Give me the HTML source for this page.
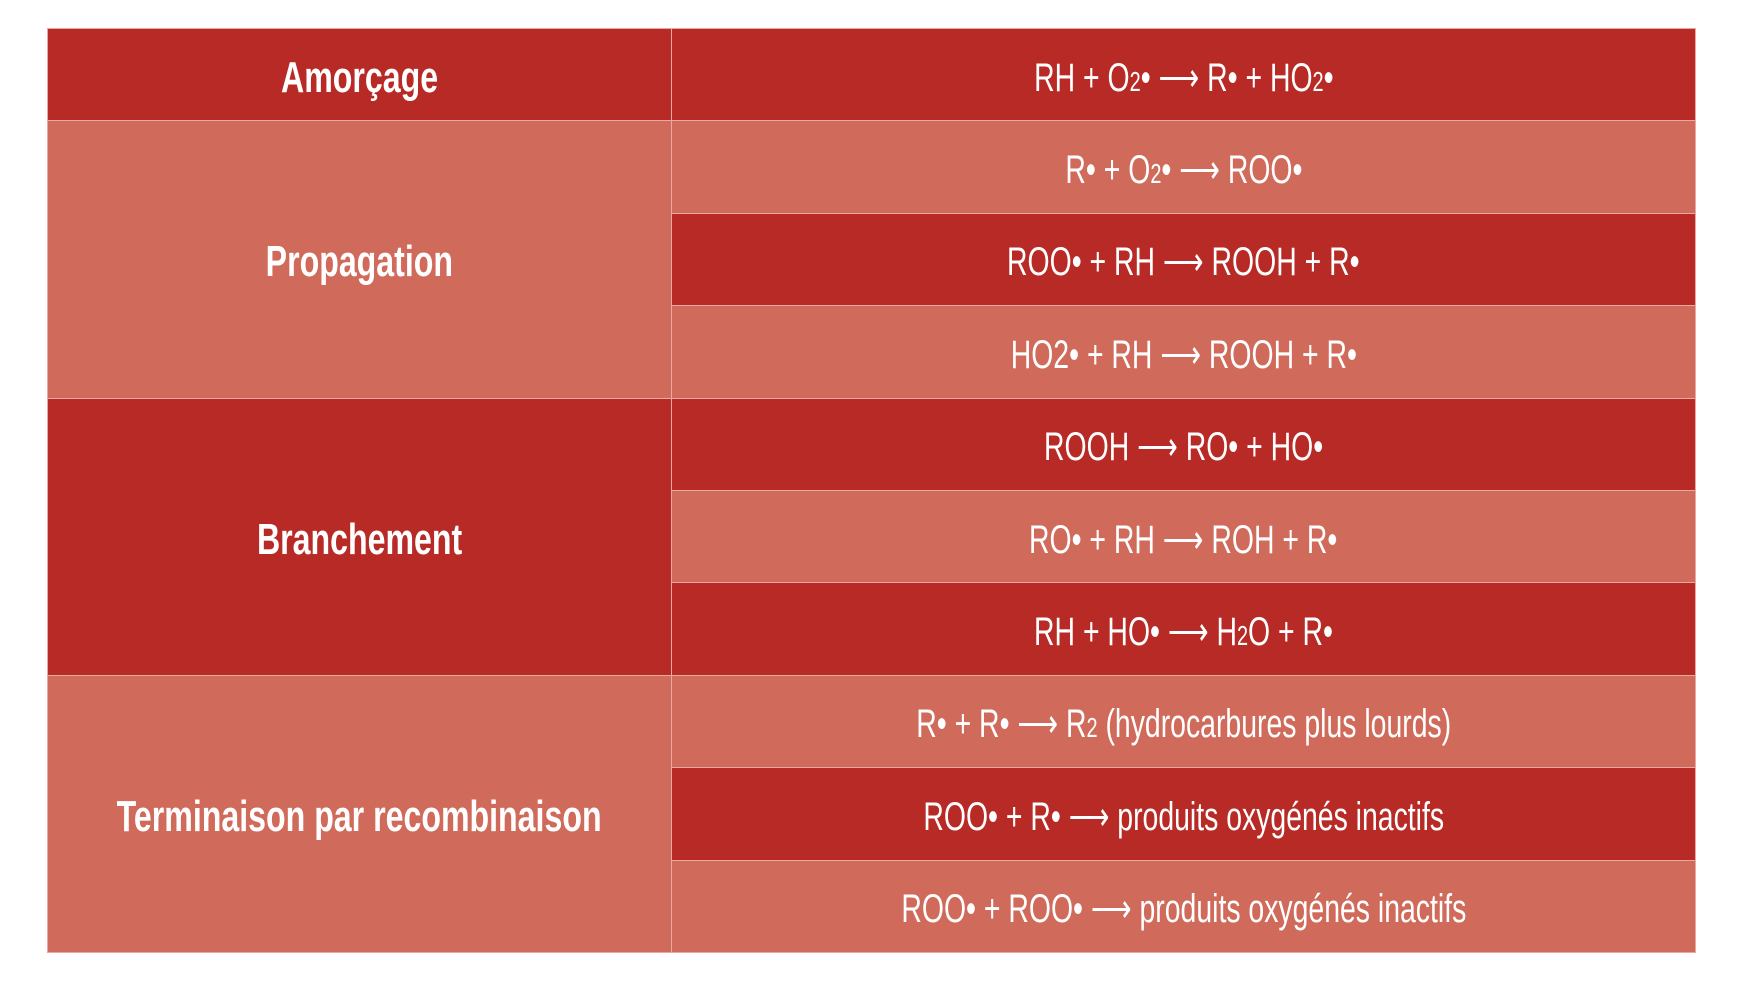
<!DOCTYPE html>
<html><head><meta charset="utf-8"><style>
html,body{margin:0;padding:0;background:#fff;width:1761px;height:1003px;overflow:hidden}
table{position:absolute;left:47px;top:28px;width:1649px;height:925px;border-collapse:collapse;border:1px solid #e05a5a;font-family:"Liberation Sans Narrow","Liberation Sans",sans-serif;color:#fff;table-layout:fixed}
td{border:1px solid #e9a8a0;text-align:center;vertical-align:middle;height:91px;padding:0;white-space:nowrap;overflow:visible}
.d{background:#b82a25}.l{background:#d06a5a}
.h{font-weight:bold;font-size:44px}
.h span{display:inline-block;transform:scaleX(0.73);margin:0 -300px;position:relative;top:3px}
.r{font-size:40px}
.r span{display:inline-block;transform:scaleX(0.71);white-space:nowrap;margin:0 -300px;position:relative;top:3px}
s{text-decoration:none;font-size:70%}
</style></head><body>
<table>
<colgroup><col style="width:624px"><col></colgroup>
<tr><td class="d h"><span>Amorçage</span></td><td class="d r"><span>RH + O<s>2</s>• ⟶ R• + HO<s>2</s>•</span></td></tr>
<tr><td class="l h" rowspan="3"><span>Propagation</span></td><td class="l r"><span>R• + O<s>2</s>• ⟶ ROO•</span></td></tr>
<tr><td class="d r"><span>ROO• + RH ⟶ ROOH + R•</span></td></tr>
<tr><td class="l r"><span>HO2• + RH ⟶ ROOH + R•</span></td></tr>
<tr><td class="d h" rowspan="3"><span>Branchement</span></td><td class="d r"><span>ROOH ⟶ RO• + HO•</span></td></tr>
<tr><td class="l r"><span>RO• + RH ⟶ ROH + R•</span></td></tr>
<tr><td class="d r"><span>RH + HO• ⟶ H<s>2</s>O + R•</span></td></tr>
<tr><td class="l h" rowspan="3"><span>Terminaison par recombinaison</span></td><td class="l r"><span>R• + R• ⟶ R<s>2</s> (hydrocarbures plus lourds)</span></td></tr>
<tr><td class="d r"><span>ROO• + R• ⟶ produits oxygénés inactifs</span></td></tr>
<tr><td class="l r"><span>ROO• + ROO• ⟶ produits oxygénés inactifs</span></td></tr>
</table>
</body></html>
